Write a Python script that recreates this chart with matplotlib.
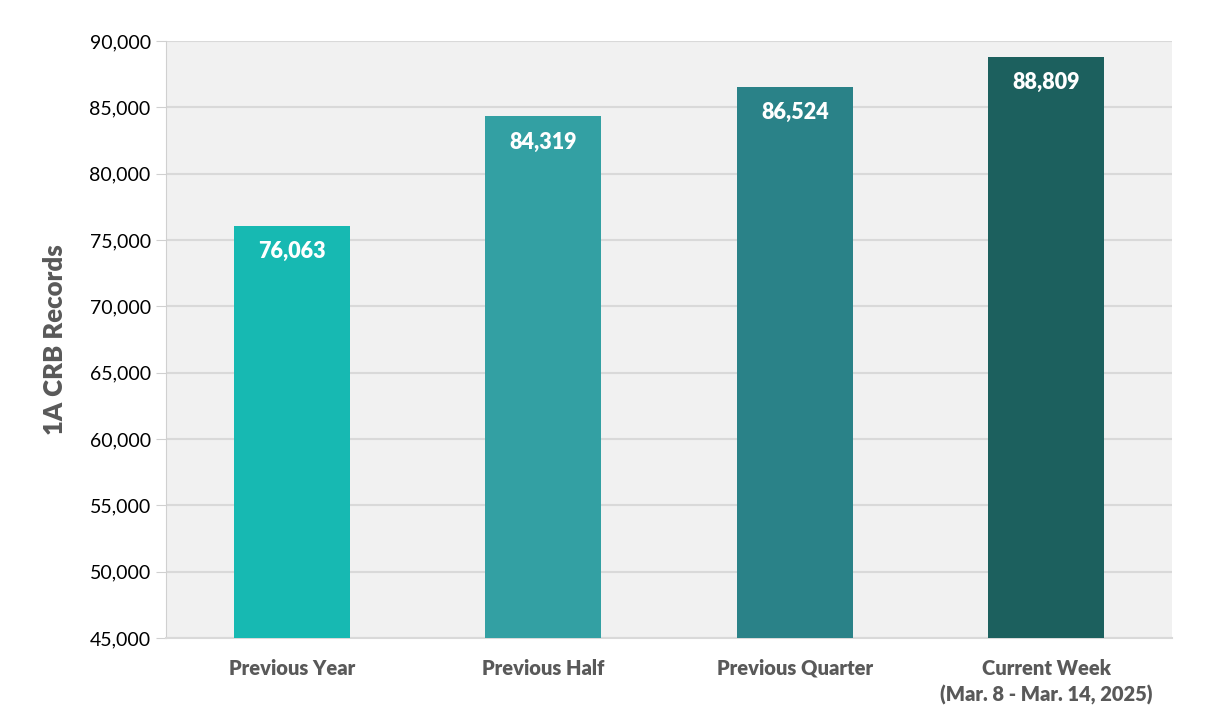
import matplotlib.pyplot as plt
from matplotlib.ticker import FuncFormatter

# Data
categories = ['Previous Year', 'Previous Half', 'Previous Quarter', 'Current Week\n(Mar. 8 - Mar. 14, 2025)']
records = [76063, 84319, 86524, 88809]
bar_colors = ['#17b9b2', '#33a0a3', '#2a8288', '#1c605e']

plt.rcParams['font.family'] = ['Lato', 'DejaVu Sans']

fig = plt.figure(figsize=(12.06, 7.25), dpi=100)
ax = fig.add_axes([166 / 1206, 1 - 638 / 725, (1172 - 166) / 1206, (638 - 41) / 725])
ax.set_facecolor('#f1f1f1')

x = range(len(categories))
ax.bar(x, records, width=0.46, color=bar_colors, zorder=3)

for xi, v in zip(x, records):
    ax.text(xi, v - 1150, f'{v:,}', ha='center', va='top', color='white',
            fontsize=15.5, fontweight='heavy', zorder=4)

ax.set_xlim(-0.5, 3.5)
ax.set_ylim(45000, 90000)
ax.set_yticks(range(45000, 90001, 5000))
ax.yaxis.set_major_formatter(FuncFormatter(lambda v, p: f'{int(v):,}'))
ax.grid(axis='y', color='#d9d9d9', linewidth=1.5, zorder=0)

ax.set_xticks(list(x))
ax.set_xticklabels(categories, fontsize=14.5, fontweight='heavy', color='#595959',
                   linespacing=1.45)
ax.tick_params(axis='x', length=0, pad=15)
ax.tick_params(axis='y', length=7, color='#d0d0d0', labelsize=14, pad=4)

for side in ['top', 'right']:
    ax.spines[side].set_visible(False)
ax.spines['left'].set_color('#d0d0d0')
ax.spines['bottom'].set_color('#d9d9d9')
ax.spines['bottom'].set_linewidth(1.5)

ax.set_ylabel('1A CRB Records', fontsize=18.5, fontweight='heavy', color='#595959', labelpad=16)

fig.savefig('out.png', dpi=100)
